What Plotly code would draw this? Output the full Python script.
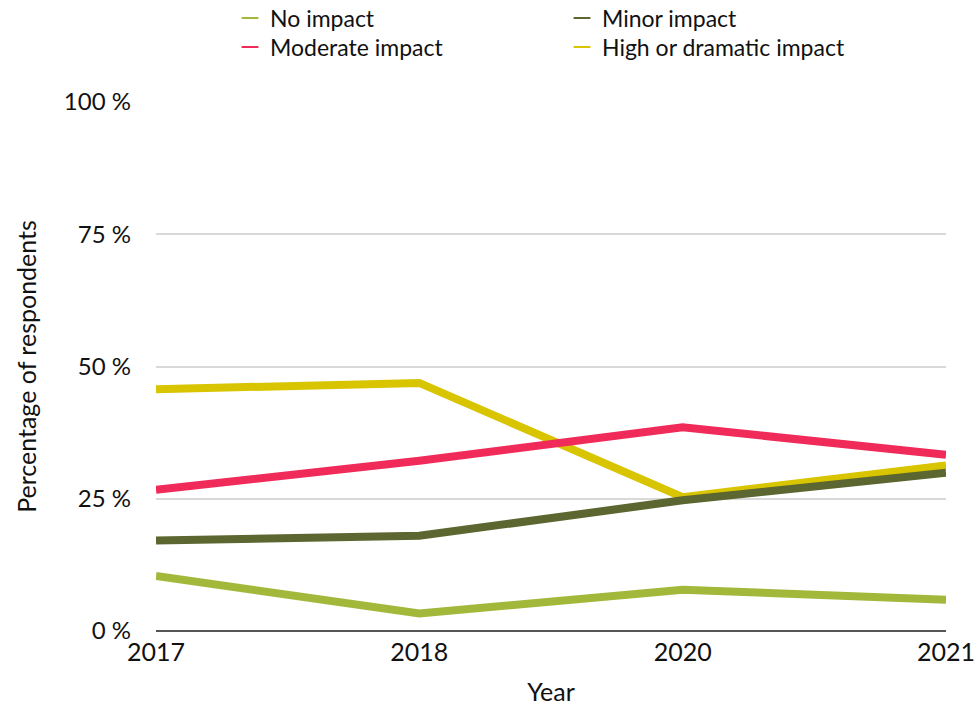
import plotly.graph_objects as go

years = ["2017", "2018", "2020", "2021"]
no_impact = [10.4, 3.3, 7.8, 5.9]
minor_impact = [17.1, 18.0, 24.7, 29.9]
moderate_impact = [26.7, 32.2, 38.5, 33.3]
high_impact = [45.7, 46.9, 25.3, 31.3]
y_ticks = [0, 25, 50, 75, 100]
y_tick_text = ["0 %", "25 %", "50 %", "75 %", "100 %"]

series = [
    ("No impact", no_impact, "#A2B83B", "legend"),
    ("Minor impact", minor_impact, "#5C6630", "legend"),
    ("Moderate impact", moderate_impact, "#F02B5A", "legend2"),
    ("High or dramatic impact", high_impact, "#D9C400", "legend2"),
]
draw_order = ["High or dramatic impact", "Moderate impact", "Minor impact", "No impact"]

FONT = "Lato"
INK = "#111111"
fig = go.Figure()

lookup = {s[0]: s for s in series}
for name in draw_order:
    _, vals, col, _ = lookup[name]
    fig.add_trace(go.Scatter(
        x=years, y=vals, mode="lines", name=name,
        line=dict(color=col, width=8), showlegend=False,
    ))

# short dash legend entries, two rows of two
for name, vals, col, leg in series:
    fig.add_trace(go.Scatter(
        x=[None], y=[None], mode="markers", name=name, legend=leg,
        marker=dict(symbol="line-ew", size=22, line=dict(color=col, width=4)),
        showlegend=True,
    ))

plot_w = 976 - 156 - 30
legend_common = dict(
    orientation="h", xref="paper", yref="container",
    xanchor="left", yanchor="middle",
    x=(230 - 156) / plot_w,
    entrywidth=287, entrywidthmode="pixels",
    font=dict(family=FONT, size=23, color=INK),
    traceorder="normal", itemsizing="constant",
    bgcolor="rgba(0,0,0,0)",
)

fig.update_layout(
    width=976, height=709,
    margin=dict(l=156, r=30, t=102, b=78),
    paper_bgcolor="white", plot_bgcolor="white",
    font=dict(family=FONT, size=24, color=INK),
    showlegend=True,
    legend=dict(legend_common, y=1 - 18 / 709),
    legend2=dict(legend_common, y=1 - 47 / 709),
    xaxis=dict(
        type="category", range=[0, 3], showgrid=False, zeroline=False,
        showline=False, ticks="", tickfont=dict(size=25, color=INK),
        ticklabelstandoff=4, automargin=False,
        title=dict(text="Year", font=dict(size=25, color=INK), standoff=18),
    ),
    yaxis=dict(
        range=[0, 100], tickvals=y_ticks, ticktext=y_tick_text,
        showgrid=True, gridcolor="#D9D9D9", gridwidth=1.5,
        zeroline=True, zerolinecolor="#555555", zerolinewidth=2,
        showline=False, ticks="", ticklabelstandoff=24, automargin=False,
        tickfont=dict(size=24, color=INK),
        title=dict(text="Percentage of respondents", font=dict(size=25, color=INK), standoff=20),
    ),
)

fig.write_html("out.html")
